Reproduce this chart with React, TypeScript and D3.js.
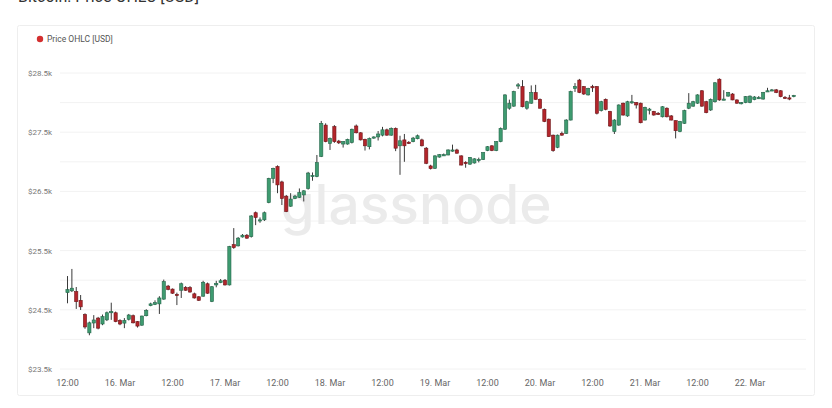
import React from "react";
import * as d3 from "d3";

const title = "Bitcoin: Price OHLC [USD]";
const seriesName = "Price OHLC [USD]";
const startTime = Date.UTC(2023, 2, 15, 12);

const opens = [
  24790, 24820, 24806, 24660, 24420, 24110, 24277, 24360, 24260, 24330,
  24460, 24450, 24320, 24275, 24340, 24400, 24300, 24240, 24400, 24570,
  24590, 24600, 24680, 24900, 24850, 24760, 24830, 24880, 24875, 24770,
  24720, 24730, 24940, 24640, 24920, 24960, 25000, 24920, 25600, 25580,
  25730, 25760, 25735, 26140, 26010, 26020, 26310, 26720, 26920, 26660,
  26420, 26250, 26380, 26400, 26440, 26550, 26750, 26750, 27090, 27620,
  27310, 27595, 27350, 27300, 27300, 27325, 27605, 27490, 27380, 27255,
  27400, 27420, 27450, 27540, 27450, 27565, 27270, 27370, 27330, 27340,
  27390, 27370, 27230, 26930, 26890, 27080, 27110, 27115, 27180, 27200,
  27100, 26990, 26960, 26980, 27030, 27040, 27190, 27270, 27190, 27340,
  27550, 27905, 27940, 28290, 28270, 27905, 27990, 28170, 28055, 27885,
  27720, 27450, 27245, 27480, 27480, 27705, 28240, 28380, 28270, 28130,
  28270, 28270, 27865, 28055, 27850, 27510, 27620, 27990, 27775, 28010,
  28000, 27990, 27705, 27885, 27850, 27820, 27760, 27905, 27775, 27695,
  27510, 27650, 27905, 27940, 27990, 28200, 28015, 27875, 28015, 28395,
  28050, 28110, 28145, 28045, 27995, 28000, 28000, 28050, 28080, 28060,
  28190, 28210, 28215, 28200, 28090, 28080, 28110,
];
const highs = [
  25070, 25190, 24885, 24750, 24440, 24300, 24410, 24380, 24420, 24470,
  24620, 24470, 24340, 24360, 24430, 24420, 24310, 24400, 24510, 24620,
  24660, 24730, 25010, 24920, 24860, 24790, 24960, 24900, 24900, 24790,
  24730, 24990, 24960, 24900, 24990, 25020, 25020, 25580, 25880, 25730,
  25780, 25780, 26100, 26160, 26060, 26160, 26730, 26900, 26940, 26680,
  26440, 26470, 26440, 26550, 26520, 26830, 26820, 27115, 27690, 27650,
  27410, 27620, 27370, 27350, 27390, 27560, 27630, 27500, 27390, 27410,
  27430, 27520, 27590, 27560, 27580, 27580, 27440, 27470, 27350, 27420,
  27460, 27390, 27250, 26950, 27110, 27130, 27140, 27210, 27290, 27220,
  27110, 27010, 27080, 27060, 27070, 27160, 27265, 27280, 27350, 27580,
  28140, 28050, 28200, 28330, 28380, 28030, 28290, 28300, 28070, 27900,
  27730, 27460, 27460, 27510, 27720, 28200, 28330, 28400, 28280, 28250,
  28300, 28280, 28030, 28070, 27860, 27720, 27970, 28000, 28030, 28130,
  28010, 28000, 27930, 27910, 27860, 27840, 27940, 27920, 27790, 27700,
  27690, 27880, 28160, 28030, 28140, 28210, 28030, 28070, 28345, 28410,
  28210, 28180, 28160, 28055, 28010, 28110, 28120, 28110, 28110, 28180,
  28250, 28230, 28230, 28210, 28110, 28130, 28130,
];
const lows = [
  24610, 24800, 24515, 24497, 24180, 24070, 24190, 24170, 24240, 24310,
  24330, 24290, 24240, 24190, 24320, 24270, 24200, 24230, 24390, 24560,
  24580, 24430, 24670, 24830, 24770, 24580, 24700, 24820, 24790, 24690,
  24650, 24720, 24770, 24630, 24880, 24950, 24910, 24910, 25530, 25570,
  25720, 25700, 25720, 25930, 25970, 26000, 26300, 26640, 26470, 26270,
  26150, 26240, 26370, 26390, 26330, 26530, 26680, 26740, 27080, 27330,
  27200, 27320, 27300, 27240, 27290, 27310, 27480, 27360, 27190, 27210,
  27390, 27360, 27430, 27440, 27440, 27180, 26780, 27000, 27300, 27330,
  27380, 27260, 26960, 26870, 26880, 27070, 27100, 27110, 27170, 27140,
  26940, 26900, 26950, 26970, 26990, 27030, 27180, 27180, 27180, 27330,
  27540, 27880, 27930, 28230, 27920, 27880, 27980, 28050, 27900, 27670,
  27420, 27170, 27230, 27440, 27470, 27700, 28180, 28160, 28130, 28120,
  28180, 27800, 27850, 27870, 27590, 27470, 27610, 27780, 27760, 27980,
  27900, 27650, 27700, 27800, 27780, 27790, 27750, 27750, 27700, 27395,
  27500, 27640, 27890, 27930, 27980, 27930, 27820, 27860, 28000, 28030,
  28040, 28100, 28040, 27980, 27970, 27990, 27990, 28040, 28060, 28050,
  28180, 28200, 28160, 28090, 28060, 28040, 28090,
];
const closes = [
  24840, 24865, 24637, 24550, 24210, 24280, 24328, 24190, 24385, 24450,
  24470, 24300, 24260, 24320, 24412, 24280, 24225, 24395, 24490, 24600,
  24620, 24700, 24975, 24845, 24780, 24740, 24940, 24830, 24800, 24700,
  24660, 24965, 24780, 24890, 24945, 24990, 24920, 25570, 25550, 25710,
  25760, 25710, 26085, 26060, 26020, 26140, 26720, 26890, 26610, 26380,
  26160, 26370, 26420, 26480, 26510, 26810, 26770, 26985, 27650, 27340,
  27395, 27340, 27320, 27340, 27380, 27550, 27490, 27370, 27270, 27395,
  27420, 27470, 27540, 27450, 27565, 27230, 27355, 27270, 27320, 27400,
  27440, 27270, 26975, 26885, 27100, 27120, 27120, 27200, 27200, 27145,
  26945, 26980, 27075, 27050, 27040, 27155, 27255, 27190, 27340, 27565,
  28130, 27990, 28185, 28300, 27930, 28015, 28170, 28055, 27905, 27680,
  27425, 27190, 27450, 27450, 27705, 28185, 28270, 28170, 28145, 28240,
  28260, 27820, 28015, 27885, 27605, 27705, 27960, 27790, 28015, 28015,
  27960, 27660, 27920, 27890, 27790, 27815, 27930, 27760, 27705, 27525,
  27680, 27865, 27990, 28015, 28130, 27940, 27830, 28055, 28335, 28045,
  28060, 28170, 28045, 27990, 28000, 28100, 28110, 28095, 28085, 28170,
  28200, 28215, 28170, 28100, 28080, 28070, 28120,
];

const yLabelTicks = [23500, 24500, 25500, 26500, 27500, 28500];
const yGridTicks = [23500, 24000, 24500, 25000, 25500, 26000, 26500, 27000, 27500, 28000, 28500];
const xTickLabels = [
  "12:00", "16. Mar", "12:00", "17. Mar", "12:00", "18. Mar", "12:00",
  "19. Mar", "12:00", "20. Mar", "12:00", "21. Mar", "12:00", "22. Mar",
];

const HOUR = 3600 * 1000;
const FONT = "Roboto, 'Open Sans', 'DejaVu Sans', sans-serif";

export default function App() {
  const W = 832;
  const H = 408;
  const n = opens.length;
  const times = opens.map((_, i) => new Date(startTime + i * HOUR));

  const x = d3
    .scaleUtc()
    .domain([times[0], times[n - 1]])
    .range([67.5, 67.5 + (n - 1) * 4.375]);
  const y = d3.scaleLinear().domain([23500, 28500]).range([369, 73]);

  const xTicks = xTickLabels.map((lab, k) => ({
    lab,
    t: new Date(startTime + k * 12 * HOUR),
  }));

  const candleW = 3.2;
  const up = "#3e9b70";
  const upStroke = "#24664a";
  const down = "#b3252b";
  const downStroke = "#6e1518";

  return (
    <svg
      width={W}
      height={H}
      style={{ position: "absolute", left: 0, top: 0, background: "#fff" }}
    >
      <text x={18} y={2} fontFamily={FONT} fontSize={16} fill="#333">
        {title}
      </text>
      <rect x={17.5} y={25.5} width={797} height={370} fill="#fff" stroke="#eeeeee" rx={2} />

      <circle cx={40} cy={39} r={3.2} fill="#d32f2f" />
      <text x={47} y={42} fontFamily={FONT} fontSize={8.5} fill="#555">
        {seriesName}
      </text>

      {yGridTicks.map((v) => (
        <line
          key={v}
          x1={60}
          x2={806}
          y1={y(v)}
          y2={y(v)}
          stroke="#f2f2f2"
          strokeWidth={1}
        />
      ))}
      {yLabelTicks.map((v) => (
        <text
          key={v}
          x={28}
          y={y(v) + 3}
          fontFamily={FONT}
          fontSize={8}
          fill="#777"
        >
          {"$" + d3.format(".1f")(v / 1000) + "k"}
        </text>
      ))}

      <text
        x={416}
        y={224}
        textAnchor="middle"
        fontFamily="Inter, Roboto, sans-serif"
        fontWeight={500}
        fontSize={55}
        fill="#ebebeb"
      >
        glassnode
      </text>

      {times.map((t, i) => {
        const o = opens[i];
        const c = closes[i];
        const isUp = c >= o;
        const cx = x(t);
        const top = y(Math.max(o, c));
        const bot = y(Math.min(o, c));
        return (
          <g key={i}>
            <line
              x1={cx}
              x2={cx}
              y1={y(highs[i])}
              y2={y(lows[i])}
              stroke="#3a3a3a"
              strokeWidth={1}
            />
            <rect
              x={cx - candleW / 2}
              y={top}
              width={candleW}
              height={Math.max(1.2, bot - top)}
              fill={isUp ? up : down}
              stroke={isUp ? upStroke : downStroke}
              strokeWidth={0.6}
            />
          </g>
        );
      })}

      {xTicks.map(({ lab, t }, k) => (
        <text
          key={k}
          x={x(t)}
          y={386}
          textAnchor="middle"
          fontFamily={FONT}
          fontSize={9}
          fill="#666"
        >
          {lab}
        </text>
      ))}
    </svg>
  );
}
